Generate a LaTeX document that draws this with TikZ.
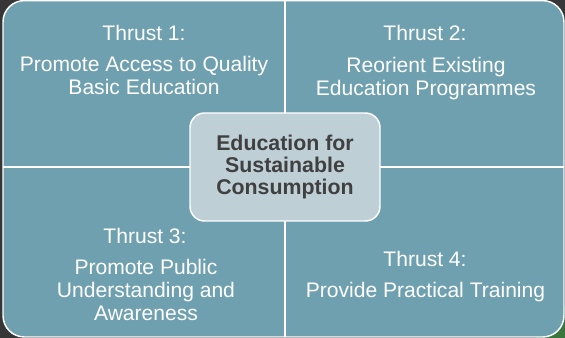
\documentclass[tikz,border=0pt]{standalone}
\usepackage{fontspec}
\setmainfont{Liberation Sans}
\usepackage{xcolor}
\definecolor{slidedark}{RGB}{54,54,54}
\definecolor{slidegreen}{RGB}{58,118,62}
\definecolor{thrustfill}{RGB}{111,160,175}
\definecolor{hubfill}{RGB}{190,207,214}
\definecolor{hubtext}{RGB}{64,64,64}
\tikzset{
  thrusttext/.style={text=white, align=center, inner sep=0pt, font=\fontsize{15.8}{17.25}\selectfont},
  hubbox/.style={draw=white, line width=1.1pt, fill=hubfill, rounded corners=11pt, minimum width=142.5pt, minimum height=81pt, text=hubtext, align=center, font=\bfseries\fontsize{16}{16.5}\selectfont},
  divider/.style={draw=white, line width=1.1pt}
}
\begin{document}
\begin{tikzpicture}[x=0.75pt,y=0.75pt,yscale=-1]
\useasboundingbox (0,0) rectangle (565,338);

%Shape: slide background
\fill [slidedark] (0,0) rectangle (565,338);
\fill [slidegreen] (536,306) rectangle (565,338);

%Shape: four quadrants as one rounded block
\draw [divider, fill=thrustfill, rounded corners=16pt] (3,0.6) rectangle (564,337);
%Straight Lines: dividers
\draw [divider] (285,0.6) -- (285,337);
\draw [divider] (3,167) -- (564,167);

% Text Node
\node [thrusttext] (t1head) at (144,33) {Thrust 1:};
% Text Node
\node [thrusttext] (t1body) at (144,75.5) {Promote Access to Quality\\Basic Education};
% Text Node
\node [thrusttext] (t2head) at (425,33) {Thrust 2:};
% Text Node
\node [thrusttext] (t2body) at (426,78.5) {Reorient Existing\\Education Programmes};
% Text Node
\node [thrusttext] (t3head) at (145,235.5) {Thrust 3:};
% Text Node
\node [thrusttext] (t3body) at (146,290) {Promote Public\\Understanding and\\Awareness};
% Text Node
\node [thrusttext] (t4head) at (425,258.5) {Thrust 4:};
% Text Node
\node [thrusttext] (t4body) at (425.5,292.5) {Provide Practical Training};

%Shape: centre box
\node [hubbox] (hub) at (285,167) {Education for\\Sustainable\\Consumption};

\end{tikzpicture}
\end{document}
